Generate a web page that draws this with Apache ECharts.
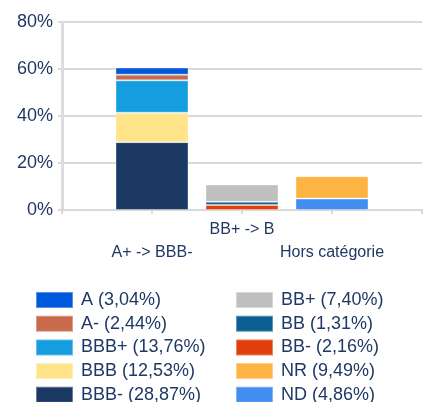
<!DOCTYPE html>
<html>
<head>
<meta charset="utf-8">
<script src="https://cdn.jsdelivr.net/npm/echarts@6/dist/echarts.min.js"></script>
<style>
* { margin: 0; padding: 0; }
html, body { background: #fff; }
#chart { width: 425px; height: 402px; }
</style>
</head>
<body>
<div id="chart"></div>
<script>
// categories on the x axis
var categories = ["A+ -> BBB-", "BB+ -> B", "Hors catégorie"];
// ratings, in stacking order (bottom to top)
var ratings = ["BBB-", "BBB", "BBB+", "A-", "A", "BB-", "BB", "BB+", "ND", "NR"];
var shares = [28.87, 12.53, 13.76, 2.44, 3.04, 2.16, 1.31, 7.40, 4.86, 9.49];
// which category each rating belongs to
var ratingCategory = [0, 0, 0, 0, 0, 1, 1, 1, 2, 2];
var colors = ["#1c3864", "#ffe48a", "#149ee0", "#c86b4c", "#0059dc",
  "#e0400c", "#0a6090", "#c0c0c0", "#418ef0", "#fdb443"];
// legend columns
var legendLeft = ["A", "A-", "BBB+", "BBB", "BBB-"];
var legendRight = ["BB+", "BB", "BB-", "NR", "ND"];
var yTicks = [0, 20, 40, 60, 80];

var textColor = "#1f3864";
var font = "Liberation Sans, Arial, sans-serif";

// empty slot on each side so the bars sit where the original ones are
var axisCats = [""].concat(categories, [""]);

var series = ratings.map(function(r, i) {
  var data = axisCats.map(function() { return "-"; });
  data[ratingCategory[i] + 1] = shares[i];
  return {
    name: r,
    type: "bar",
    stack: "total",
    barWidth: 73,
    data: data,
    itemStyle: {
      color: colors[i],
      borderColor: "rgba(255,255,255,0.35)",
      borderWidth: 1
    }
  };
});

function legendLabel(name) {
  var v = shares[ratings.indexOf(name)];
  return name + " (" + v.toFixed(2).replace(".", ",") + "%)";
}

function legend(names, left) {
  return {
    orient: "vertical",
    left: left,
    top: 291,
    height: 160,
    padding: 0,
    data: names,
    icon: "rect",
    itemWidth: 37,
    itemHeight: 16,
    itemGap: 5.7,
    selectedMode: false,
    formatter: legendLabel,
    textStyle: {
      color: textColor,
      fontFamily: font,
      fontSize: 18,
      lineHeight: 18,
      padding: [0, 0, 0, 3]
    }
  };
}

var chart = echarts.init(document.getElementById("chart"));
chart.setOption({
  animation: false,
  grid: { left: 62, top: 22, width: 364, height: 188 },
  legend: [legend(legendLeft, 35), legend(legendRight, 235)],
  xAxis: {
    type: "category",
    data: axisCats,
    boundaryGap: false,
    axisLine: { lineStyle: { color: "#d9d9d9", width: 2 } },
    axisTick: { length: 4, lineStyle: { color: "#d9d9d9", width: 2 } },
    axisLabel: {
      interval: 0,
      margin: 8,
      color: textColor,
      fontFamily: font,
      fontSize: 16,
      lineHeight: 23,
      formatter: function(v, i) { return i % 2 === 1 ? "\n" + v : v; }
    }
  },
  yAxis: {
    type: "value",
    min: yTicks[0],
    max: yTicks[yTicks.length - 1],
    interval: 20,
    axisLine: { show: true, lineStyle: { color: "#dcdcdc", width: 3 } },
    axisTick: { show: true, length: 4, lineStyle: { color: "#d9d9d9", width: 2 } },
    splitLine: { lineStyle: { color: "#d9d9d9", width: 2 } },
    axisLabel: {
      margin: 9,
      color: textColor,
      fontFamily: font,
      fontSize: 18,
      formatter: "{value}%"
    }
  },
  series: series
});
</script>
</body>
</html>
